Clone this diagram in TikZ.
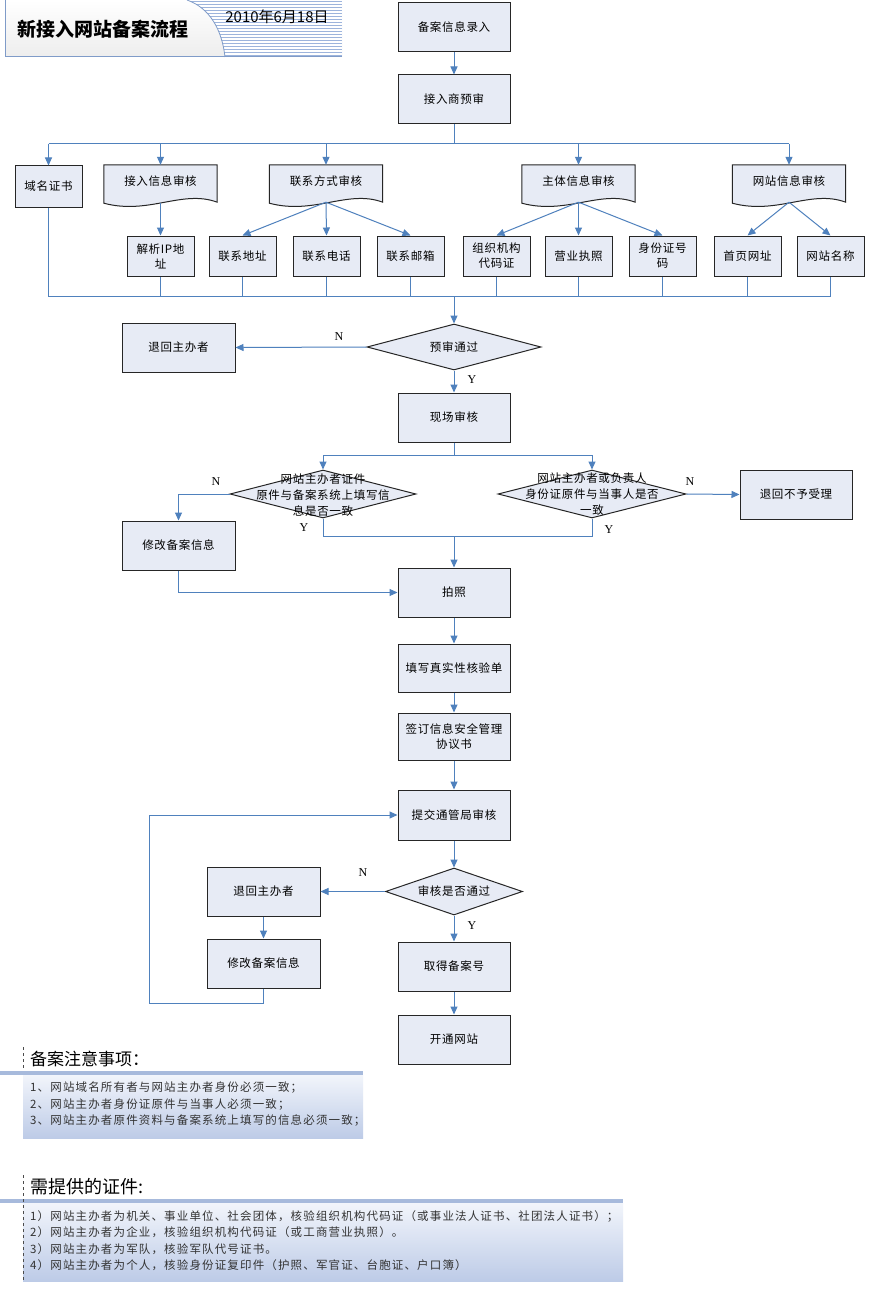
\documentclass[tikz,border=0pt]{standalone}
\usepackage{fontspec}
\setmainfont{Noto Sans CJK SC}
\newfontfamily\cjk[LetterSpace=6]{Noto Sans CJK SC}
\newfontfamily\cjknote[LetterSpace=10]{Noto Sans CJK SC}
\newfontfamily\enserif{Liberation Serif}
\usetikzlibrary{arrows.meta,shapes.geometric,calc,backgrounds}
\definecolor{boxfill}{HTML}{E7EBF5}
\definecolor{lineblue}{HTML}{4F81BD}
\definecolor{barblue}{HTML}{A7BADC}
\definecolor{notetop}{HTML}{F2F5FB}
\definecolor{notebot}{HTML}{BDCBE7}
\definecolor{stripe}{HTML}{9DB4DC}
\definecolor{frameblue}{HTML}{7F9BC8}
\tikzset{
 box/.style={draw=black!85, line width=1pt, fill=boxfill, minimum width=112pt, minimum height=49pt, inner sep=1pt, align=center, font=\cjk\fontsize{11.5}{15}\selectfont},
 sbox/.style={box, minimum width=67pt, minimum height=40pt},
 doc/.style={minimum width=113pt, minimum height=32pt, inner sep=0pt, font=\cjk\fontsize{11.5}{15}\selectfont},
 docshape/.style={draw=black!85, line width=1pt, fill=boxfill},
 dia/.style={diamond, draw=black!85, line width=1pt, fill=boxfill, inner sep=0pt},
 dtext/.style={align=center, inner sep=0pt, font=\cjk\fontsize{11.5}{16}\selectfont},
 line/.style={draw=lineblue, line width=1pt},
 arr/.style={line, -{Triangle[width=7pt,length=8pt]}},
 yn/.style={font=\enserif\fontsize{12}{12}\selectfont},
 note/.style={anchor=north west, align=left, inner sep=0pt, text=black!80, font=\cjknote\fontsize{11.5}{16.5}\selectfont},
}
\newcommand\docwave[1]{%
 \draw[docshape] (#1.north west) -- (#1.north east) -- ($(#1.south east)+(0,5)$)
   .. controls ($(#1.south east)+(-35,-8)$) and ($(#1.south west)+(45,18)$) .. ($(#1.south west)+(0,6)$) -- cycle;}
\begin{document}
\begin{tikzpicture}[x=1pt,y=-1pt]
\useasboundingbox (0,0) rectangle (868,1300);
\fill[white] (0,0) rectangle (868,1300);
% title
\shade[top color=white, bottom color=gray!14] (5,0) rectangle (342,57);
\begin{scope}
\clip (187,0) .. controls (210,8) and (222,30) .. (225,57) -- (342,57) -- (342,0) -- cycle;
\fill[white] (180,0) rectangle (342,57);
\foreach \yy in {1.5,4.5,...,57} \draw[stripe, line width=1pt] (180,\yy) -- (342,\yy);
\end{scope}
\draw[frameblue, line width=0.8pt] (187,0) .. controls (210,8) and (222,30) .. (225,57);
\draw[frameblue, line width=1pt] (5,0) -- (5,57) -- (342,57);
\node[font=\bfseries\fontsize{19}{19}\selectfont] (title) at (103,29) {新接入网站备案流程};
\node[font=\fontsize{15}{15}\selectfont] (date) at (277,17) {2010年6月18日};

% top chain
\node[box] (lr) at (454,27.5) {备案信息录入};
\node[box] (ys) at (454,99.5) {接入商预审};
\draw[arr] (lr) -- (ys);

% first level
\node[sbox, minimum height=41pt] (ymzs) at (48.5,186.5) {域名证书};
\node[doc] (jrxx) at (160.5,181) {};
\node[doc] (lxfs) at (326,181) {};
\node[doc] (ztxx) at (578.5,181) {};
\node[doc] (wzxx) at (789,181) {};
\docwave{jrxx}\docwave{lxfs}\docwave{ztxx}\docwave{wzxx}
\node[doc] (jrxxt) at (jrxx) {接入信息审核};
\node[doc] (lxfst) at (lxfs) {联系方式审核};
\node[doc] (ztxxt) at (ztxx) {主体信息审核};
\node[doc] (wzxxt) at (wzxx) {网站信息审核};

\coordinate (c1) at (454,144);
\draw[line] (ys.south) -- (c1);
\draw[line] (ymzs.north |- c1) -- (wzxx.north |- c1);
\foreach \n in {ymzs,jrxx,lxfs,ztxx,wzxx} \draw[arr] (\n.north |- c1) -- (\n.north);

% second level
\node[sbox] (jx) at (160.5,256) {解析IP地\\址};
\node[sbox] (lxdz) at (242.5,256) {联系地址};
\node[sbox] (lxdh) at (326.5,256) {联系电话};
\node[sbox] (lxyx) at (410.5,256) {联系邮箱};
\node[sbox] (zzjg) at (496.5,256) {组织机构\\代码证};
\node[sbox] (yyzz) at (578.5,256) {营业执照};
\node[sbox] (sfz) at (662.5,256) {身份证号\\码};
\node[sbox] (sywz) at (747.5,256) {首页网址};
\node[sbox] (wzmc) at (830.5,256) {网站名称};

\draw[arr] ($(jrxx.south)+(0,6)$) -- (jx.north);
\foreach \n in {lxdz,lxdh,lxyx} \draw[arr] ($(lxfs.south)+(0,5)$) -- (\n.north);
\foreach \n in {zzjg,yyzz,sfz} \draw[arr] ($(ztxx.south)+(0,5)$) -- (\n.north);
\foreach \n in {sywz,wzmc} \draw[arr] ($(wzxx.south)+(0,5)$) -- (\n.north);

\coordinate (c2) at (454,296);
\draw[line] (ymzs.south) |- (wzmc.south |- c2);
\foreach \n in {jx,lxdz,lxdh,lxyx,zzjg,yyzz,sfz,sywz,wzmc} \draw[line] (\n.south) -- (\n.south |- c2);

% pre-check decision
\node[dia, minimum width=174pt, minimum height=46pt] (ysgt) at (454,347) {};
\node[dtext] (ysgtt) at (ysgt) {预审通过};
\draw[arr] (c2) -- (ysgt.north);
\node[box, minimum width=113pt] (th1) at (178.5,347.5) {退回主办者};
\draw[arr] (ysgt.west) -- (th1.east);
\node[yn] (n1) at (339,337) {N};
\node[yn] (y1) at (472,380) {Y};
\node[box] (xc) at (454,417.5) {现场审核};
\draw[arr] (ysgt.south) -- (xc.north);

% on-site decisions
\node[dia, minimum width=186pt, minimum height=48pt] (d1) at (323,494) {};
\node[dtext] (d1t) at (323,495.5) {网站主办者证件\\原件与备案系统上填写信\\息是否一致};
\node[dia, minimum width=188pt, minimum height=48pt] (d2) at (592,494) {};
\node[dtext] (d2t) at (592,494.5) {网站主办者或负责人\\身份证原件与当事人是否\\一致};
\coordinate (c3) at (454,455);
\draw[line] (xc.south) -- (c3);
\draw[line] (d1.north |- c3) -- (d2.north |- c3);
\draw[arr] (d1.north |- c3) -- (d1.north);
\draw[arr] (d2.north |- c3) -- (d2.north);
\node[box, minimum width=112pt] (bq) at (796,494.5) {退回不予受理};
\draw[arr] (d2.east) -- (bq.west);
\node[box, minimum width=113pt] (xg1) at (178.5,545.5) {修改备案信息};
\draw[arr] (d1.west) -| (xg1.north);
\node[yn] (n2) at (216,482) {N};
\node[yn] (n3) at (690,482) {N};
\node[yn] (y2) at (304,528) {Y};
\node[yn] (y3) at (609,530) {Y};

\node[box] (pz) at (454,592.5) {拍照};
\coordinate (c4) at (454,536);
\draw[line] (d1.south) |- (c4);
\draw[line] (d2.south) |- (c4);
\draw[arr] (c4) -- (pz.north);
\draw[arr] (xg1.south) |- (pz.west);

\node[box, minimum height=48pt] (hy) at (454,668) {填写真实性核验单};
\draw[arr] (pz) -- (hy);
\node[box, minimum height=47pt] (qd) at (454,736.5) {签订信息安全管理\\协议书};
\draw[arr] (hy) -- (qd);
\node[box, minimum height=50pt] (tj) at (454,815) {提交通管局审核};
\draw[arr] (qd) -- (tj);

\node[dia, minimum width=137pt, minimum height=47pt] (shtg) at (454,891.5) {};
\node[dtext] (shtgt) at (shtg) {审核是否通过};
\draw[arr] (tj) -- (shtg.north);
\node[box, minimum width=113pt] (th2) at (263.5,891.5) {退回主办者};
\draw[arr] (shtg.west) -- (th2.east);
\node[yn] (n4) at (363,873) {N};
\node[box, minimum width=113pt] (xg2) at (263.5,963.5) {修改备案信息};
\draw[arr] (th2) -- (xg2);
\coordinate (lp) at (149,1003);
\draw[arr] (xg2.south) |- (lp) |- (tj.west);
\node[yn] (y4) at (472,926) {Y};
\node[box] (qdh) at (454,966.5) {取得备案号};
\draw[arr] (shtg.south) -- (qdh.north);
\node[box] (kt) at (454,1039.5) {开通网站};
\draw[arr] (qdh) -- (kt);

% notes 1
\draw[black!70, dashed, line width=0.8pt] (23,1047) -- (23,1075);
\node[anchor=west, inner sep=0pt, font=\fontsize{17}{17}\selectfont] (h1) at (30,1059) {备案注意事项：};
\fill[barblue] (0,1071) rectangle (363,1075);
\shade[top color=notetop, bottom color=notebot] (23,1075) rectangle (363,1138);
\node[note] (t1) at (30,1082) {1、网站域名所有者与网站主办者身份必须一致；\\2、网站主办者身份证原件与当事人必须一致；\\3、网站主办者原件资料与备案系统上填写的信息必须一致；};

% notes 2
\node[anchor=west, inner sep=0pt, font=\fontsize{18}{18}\selectfont] (h2) at (30,1187) {需提供的证件:};
\fill[barblue] (0,1199) rectangle (623,1203);
\shade[top color=notetop, bottom color=notebot] (23,1203) rectangle (623,1281);
\draw[black!70, dashed, line width=0.8pt] (23,1175) -- (23,1280);
\node[note] (t2) at (30,1210) {1）网站主办者为机关、事业单位、社会团体，核验组织机构代码证（或事业法人证书、社团法人证书）；\\2）网站主办者为企业，核验组织机构代码证（或工商营业执照）。\\3）网站主办者为军队，核验军队代号证书。\\4）网站主办者为个人，核验身份证复印件（护照、军官证、台胞证、户口簿）};
\end{tikzpicture}
\end{document}
